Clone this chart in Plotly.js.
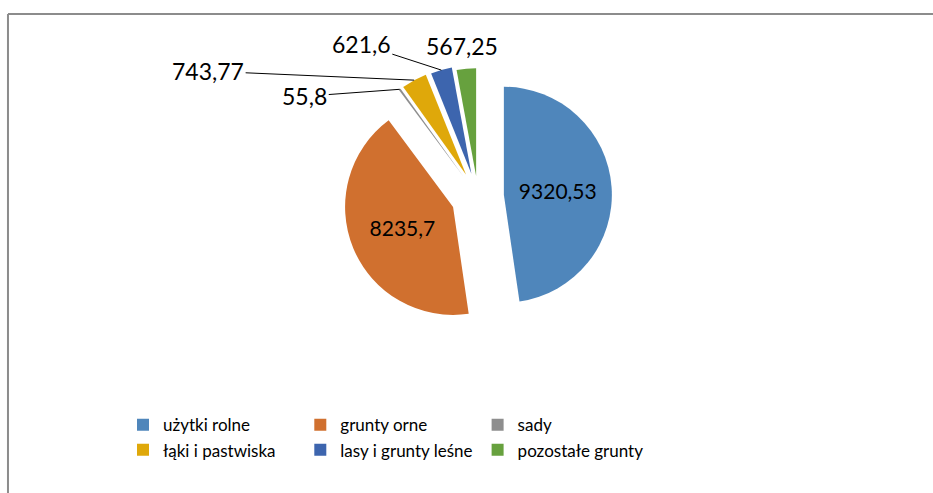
<!DOCTYPE html>
<html>
<head>
<meta charset="utf-8">
<script src="https://cdn.plot.ly/plotly-3.0.1.min.js"></script>
<style>
  html, body { margin: 0; padding: 0; background: #fff; }
  #wykres { width: 933px; height: 493px; }
</style>
</head>
<body>
<div id="wykres"></div>
<script>
// Struktura gruntów
const kategorie = ['użytki rolne', 'grunty orne', 'sady', 'łąki i pastwiska', 'lasy i grunty leśne', 'pozostałe grunty'];
const powierzchnia = [9320.53, 8235.7, 55.8, 743.77, 621.6, 567.25];
const kolory = ['#4F86BB', '#D0702F', '#8E8E8E', '#DFA80A', '#3D65AE', '#67A13E'];

// etykiety z przecinkiem dziesiętnym
const etykiety = powierzchnia.map(v => String(v).replace('.', ','));

const wysuniecie = [0.24, 0.25, 0.23, 0.23, 0.22, 0.19];
const czcionka = { family: 'Lato', size: 21, color: '#000' };
const czcionkaOpisu = { family: 'Lato', size: 23, color: '#000' };

const dane = [
    {
        type: 'pie',
        labels: kategorie,
        values: powierzchnia,
        text: etykiety,
        textinfo: 'text',
        // małe wycinki opisane osobno (odnośniki jak w Excelu)
        textposition: ['inside', 'inside', 'none', 'none', 'none', 'none'],
        insidetextorientation: 'horizontal',
        textfont: czcionka,
        sort: false,
        direction: 'clockwise',
        rotation: 0,
        pull: wysuniecie,
        marker: { colors: kolory, line: { width: 0 } },
        hoverinfo: 'none',
        domain: { x: [0.2917, 0.8917], y: [0.3274, 0.875] }
    }
];

const uklad = {
    width: 933,
    height: 493,
    margin: { l: 123, r: 210, t: 0, b: 0 },
    paper_bgcolor: '#fff',
    plot_bgcolor: '#fff',
    showlegend: true,
    legend: {
        orientation: 'h',
        x: 0, xanchor: 'left',
        y: 0.174, yanchor: 'top',
        font: { family: 'Lato', size: 17, color: '#000' }
    },
    // ramka wykresu (widoczna tylko u góry i z lewej)
    shapes: [
        { type: 'line', xref: 'paper', yref: 'paper', x0: -0.1917, x1: 1.4, y0: 0.9716, y1: 0.9716, line: { color: '#8C8C8C', width: 2 } },
        { type: 'line', xref: 'paper', yref: 'paper', x0: -0.1917, x1: -0.1917, y0: -0.1, y1: 0.9716, line: { color: '#8C8C8C', width: 2 } }
    ]
};

// przesunięcie opisu względem końca wycinka [dx, dy, linia]
const odnosniki = {
    2: [-95, 7, true],
    3: [-206, -9, true],
    4: [-80, -26, true],
    5: [-4, -39, false]
};

Plotly.newPlot('wykres', dane, uklad, { displayModeBar: false, staticPlot: true }).then(gd => {
    const cd = gd.calcdata[0];
    const gs = gd._fullLayout._size;
    const cx = cd[0].cx, cy = cd[0].cy;
    const adnotacje = [];
    cd.forEach(pt => {
        const o = odnosniki[pt.i];
        if (!o) return;
        const k = 1 + wysuniecie[pt.i];
        const px = cx + pt.pxmid[0] * k;
        const py = cy + pt.pxmid[1] * k;
        const a = {
            xref: 'paper', yref: 'paper',
            x: (px - gs.l) / gs.w,
            y: 1 - (py - gs.t) / gs.h,
            text: etykiety[pt.i],
            font: czcionkaOpisu
        };
        if (o[2]) {
            Object.assign(a, { showarrow: true, arrowhead: 0, arrowwidth: 1, arrowcolor: '#000', ax: o[0], ay: o[1], standoff: 0 });
        } else {
            Object.assign(a, { showarrow: false, xshift: o[0], yshift: -o[1] });
        }
        adnotacje.push(a);
    });
    return Plotly.relayout(gd, { annotations: adnotacje });
});
</script>
</body>
</html>
